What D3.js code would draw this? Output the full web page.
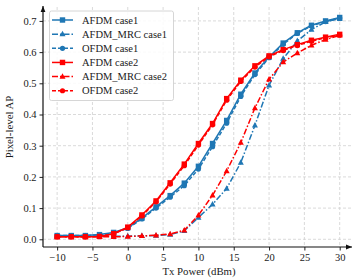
<!DOCTYPE html>
<html><head><meta charset="utf-8">
<script src="https://cdn.jsdelivr.net/npm/d3@7"></script>
<style>body{margin:0;background:#fff}svg{display:block}text{font-family:"Liberation Serif","DejaVu Serif",serif;}</style>
</head><body>
<script>
const txPower = [-10,-8,-6,-4,-2,0,2,4,6,8,10,12,14,16,18,20,22,24,26,28,30];
const afdmCase1 = [0.012,0.012,0.012,0.015,0.022,0.037,0.068,0.104,0.140,0.180,0.234,0.307,0.381,0.465,0.533,0.584,0.629,0.662,0.686,0.700,0.711];
const afdmMrcCase1 = [0.010,0.010,0.010,0.010,0.010,0.010,0.011,0.012,0.015,0.027,0.070,0.112,0.163,0.246,0.365,0.494,0.579,0.636,0.672,0.697,0.707];
const ofdmCase1 = [0.012,0.012,0.012,0.014,0.020,0.035,0.065,0.100,0.135,0.172,0.225,0.297,0.372,0.458,0.528,0.582,0.625,0.660,0.684,0.698,0.709];
const afdmCase2 = [0.008,0.008,0.008,0.009,0.018,0.039,0.078,0.123,0.181,0.241,0.307,0.371,0.451,0.510,0.556,0.588,0.608,0.624,0.638,0.648,0.657];
const afdmMrcCase2 = [0.008,0.008,0.008,0.008,0.008,0.009,0.011,0.013,0.017,0.029,0.077,0.141,0.219,0.310,0.421,0.513,0.568,0.597,0.622,0.640,0.654];
const ofdmCase2 = [0.008,0.008,0.008,0.009,0.017,0.037,0.075,0.120,0.177,0.236,0.302,0.367,0.446,0.506,0.552,0.585,0.605,0.621,0.635,0.646,0.654];
const xTicks = [-10,-5,0,5,10,15,20,25,30];
const yTicks = [0.0,0.1,0.2,0.3,0.4,0.5,0.6,0.7];
const seriesNames = ["AFDM case1","AFDM_MRC case1","OFDM case1","AFDM case2","AFDM_MRC case2","OFDM case2"];

const BLUE="#1f77b4", RED="#ff0000";
const series = [
 {name:seriesNames[0], values:afdmCase1, color:BLUE, dash:null, marker:"square"},
 {name:seriesNames[1], values:afdmMrcCase1, color:BLUE, dash:"6,2,1.5,2", marker:"triangle"},
 {name:seriesNames[2], values:ofdmCase1, color:BLUE, dash:"4,2", marker:"circle"},
 {name:seriesNames[3], values:afdmCase2, color:RED, dash:null, marker:"square"},
 {name:seriesNames[4], values:afdmMrcCase2, color:RED, dash:"6,2,1.5,2", marker:"triangle"},
 {name:seriesNames[5], values:ofdmCase2, color:RED, dash:"4,2", marker:"circle"},
];

const FS=10.5;
const W=354,H=278;
const L=43,R=351,T=7,B=247;
const svg=d3.select("body").append("svg").attr("width",W).attr("height",H);
const x=d3.scaleLinear().domain([-12,31.6]).range([L,R]);
const y=d3.scaleLinear().domain([-0.0247,0.7446]).range([B,T]);

// grid
const g=svg.append("g");
g.selectAll(".gx").data(xTicks).join("line").attr("x1",d=>x(d)).attr("x2",d=>x(d)).attr("y1",T).attr("y2",B)
 .attr("stroke","#d0d0d0").attr("stroke-width",0.8).attr("stroke-dasharray","3,2");
g.selectAll(".gy").data(yTicks).join("line").attr("y1",d=>y(d)).attr("y2",d=>y(d)).attr("x1",L).attr("x2",R)
 .attr("stroke","#d0d0d0").attr("stroke-width",0.8).attr("stroke-dasharray","3,2");

// axes
const xa=svg.append("g").attr("transform",`translate(0,${B})`).call(d3.axisBottom(x).tickValues(xTicks).tickSize(3.5).tickPadding(3).tickFormat(d=>d<0?"\u2212"+Math.abs(d):d));
const ya=svg.append("g").attr("transform",`translate(${L},0)`).call(d3.axisLeft(y).tickValues(yTicks).tickSize(3.5).tickPadding(3).tickFormat(d3.format(".1f")));
[xa,ya].forEach(a=>{a.select(".domain").remove();a.selectAll("text").attr("font-size",FS).attr("fill","#1a1a1a").style("font-family","Liberation Serif");a.selectAll("line").attr("stroke","#222");});
// spines with arrows
svg.append("defs").append("marker").attr("id","arr").attr("viewBox","0 0 10 10").attr("refX",10).attr("refY",5)
 .attr("markerWidth",6).attr("markerHeight",6).attr("orient","auto").attr("markerUnits","userSpaceOnUse")
 .append("path").attr("d","M0,1 L10,5 L0,9 z").attr("fill","#111");
svg.append("line").attr("x1",L).attr("x2",R+1).attr("y1",B).attr("y2",B).attr("stroke","#111").attr("stroke-width",1.2).attr("marker-end","url(#arr)");
svg.append("line").attr("x1",L).attr("x2",L).attr("y1",B).attr("y2",T-1).attr("stroke","#111").attr("stroke-width",1.2).attr("marker-end","url(#arr)");

// lines
const line=d3.line().x((d,i)=>x(txPower[i])).y(d=>y(d));
function drawMarker(sel,type,color,cx,cy){
  if(type==="square") sel.append("rect").attr("x",cx-2.7).attr("y",cy-2.7).attr("width",5.4).attr("height",5.4).attr("fill",color);
  else if(type==="circle") sel.append("circle").attr("cx",cx).attr("cy",cy).attr("r",2.6).attr("fill",color);
  else sel.append("path").attr("d",`M${cx},${cy-3.3}L${cx+3},${cy+2.2}L${cx-3},${cy+2.2}Z`).attr("fill",color);
}
series.forEach(s=>{
  const gs=svg.append("g");
  gs.append("path").datum(s.values).attr("d",line).attr("fill","none").attr("stroke",s.color).attr("stroke-width",1.5)
   .attr("stroke-dasharray",s.dash);
  s.values.forEach((v,i)=>drawMarker(gs,s.marker,s.color,x(txPower[i]),y(v)));
});

// legend
const lg=svg.append("g");
lg.append("rect").attr("x",49.5).attr("y",11).attr("width",124).attr("height",89.5).attr("rx",2)
 .attr("fill","rgba(255,255,255,0.85)").attr("stroke","#cccccc").attr("stroke-width",0.8);
series.forEach((s,i)=>{
  const yy=20+i*14.15;
  lg.append("line").attr("x1",52).attr("x2",73).attr("y1",yy).attr("y2",yy).attr("stroke",s.color).attr("stroke-width",1.5).attr("stroke-dasharray",s.dash);
  drawMarker(lg,s.marker,s.color,62.5,yy);
  lg.append("text").attr("x",82).attr("y",yy+3.6).attr("font-size",FS).attr("fill","#1a1a1a").text(s.name);
});

// labels
svg.append("text").attr("x",199).attr("y",275).attr("text-anchor","middle").attr("font-size",FS+0.3).attr("fill","#1a1a1a").text("Tx Power (dBm)");
svg.append("text").attr("transform","translate(13,127) rotate(-90)").attr("text-anchor","middle").attr("font-size",FS+0.3).attr("fill","#1a1a1a").text("Pixel-level AP");
</script>
</body></html>
